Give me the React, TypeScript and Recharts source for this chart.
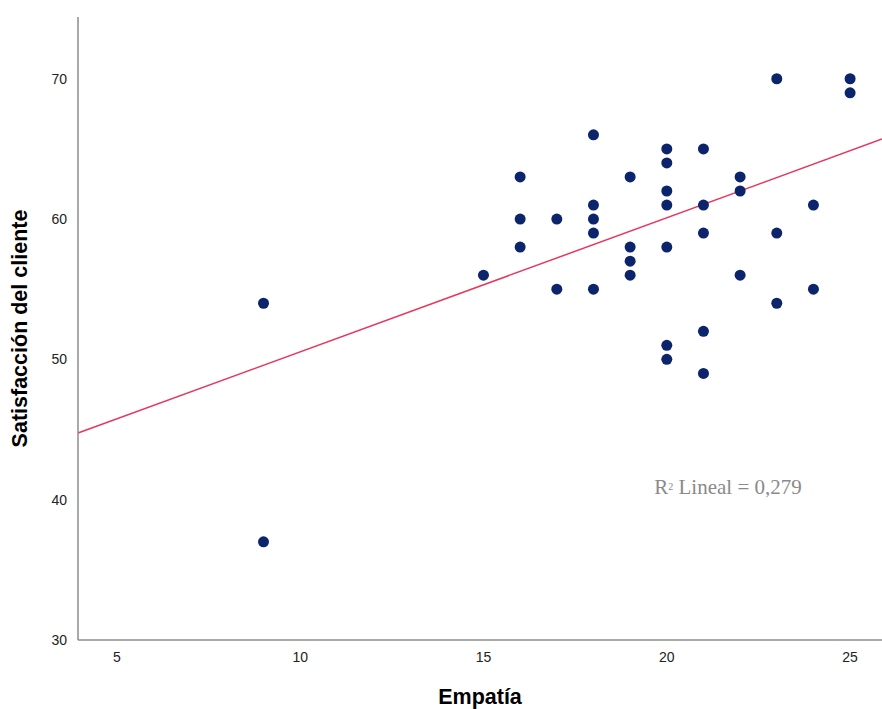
import React from "react";
import { ScatterChart, Scatter, XAxis, YAxis, ReferenceLine, ReferenceDot } from "recharts";

// Empatía (x) vs Satisfacción del cliente (y)
const empatia = [9, 9, 15, 16, 16, 16, 17, 17, 18, 18, 18, 18, 18, 19, 19, 19, 19, 20, 20, 20, 20, 20, 20, 20, 21, 21, 21, 21, 21, 22, 22, 22, 23, 23, 23, 24, 24, 25, 25];
const satisfaccion = [54, 37, 56, 63, 60, 58, 60, 55, 66, 61, 60, 59, 55, 63, 58, 57, 56, 65, 64, 62, 61, 58, 51, 50, 65, 61, 59, 52, 49, 63, 62, 56, 70, 59, 54, 61, 55, 70, 69];

const xTicks = [5, 10, 15, 20, 25];
const yTicks = [30, 40, 50, 60, 70];
const xDomain = [3.94, 25.87];
const yDomain = [30, 74.4];

// linear fit endpoints
const fitLine = [
  { x: 3.94, y: 44.75 },
  { x: 25.87, y: 65.7 },
];
const r2Label = { x: 21.67, y: 40.9, text: "0,279" };

const points = empatia.map((x, i) => ({ x, y: satisfaccion[i] }));

const tickStyle = { fontFamily: "Liberation Sans, Arial, sans-serif", fontSize: 14, fill: "#222" };
const titleStyle = { fontFamily: "Liberation Sans, Arial, sans-serif", fontSize: 21.5, fontWeight: 700, fill: "#000" };

function YTitle(props: any) {
  const vb = props.viewBox;
  const cx = 20;
  const cy = vb.y + vb.height / 2;
  return (
    <text x={cx} y={cy} transform={`rotate(-90 ${cx} ${cy})`} textAnchor="middle" dominantBaseline="central" style={titleStyle}>
      Satisfacción del cliente
    </text>
  );
}

function XTitle(props: any) {
  const vb = props.viewBox;
  return (
    <text x={vb.x + vb.width / 2} y={vb.y + 57} textAnchor="middle" dominantBaseline="central" style={titleStyle}>
      Empatía
    </text>
  );
}

function R2Text(props: any) {
  const vb = props.viewBox;
  const cx = vb.x + (vb.width || 0) / 2;
  const cy = vb.y + (vb.height || 0) / 2;
  return (
    <text x={cx} y={cy} textAnchor="middle" dominantBaseline="central" style={{ fontFamily: "Liberation Serif, Times New Roman, serif", fontSize: 21, fill: "#8a8a8a" }}>
      R<tspan fontSize={10} dy={-1}>2</tspan>
      <tspan dy={1}> Lineal = {r2Label.text}</tspan>
    </text>
  );
}

export default function App() {
  return (
    <div style={{ position: "absolute", left: 0, top: 0, width: 882, height: 709, background: "#fff" }}>
      <ScatterChart width={882} height={709} margin={{ top: 17, right: 0, bottom: 0, left: 0 }}>
        <XAxis
          type="number"
          dataKey="x"
          domain={xDomain}
          ticks={xTicks}
          allowDataOverflow
          height={69}
          tick={tickStyle}
          tickLine={false}
          tickMargin={6}
          axisLine={{ stroke: "#8c8c8c", strokeWidth: 1.5 }}
          label={<XTitle />}
        />
        <YAxis
          type="number"
          dataKey="y"
          domain={yDomain}
          ticks={yTicks}
          allowDataOverflow
          width={78}
          tick={tickStyle}
          tickLine={false}
          tickMargin={5}
          axisLine={{ stroke: "#8c8c8c", strokeWidth: 1.5 }}
          label={<YTitle />}
        />
        <ReferenceLine
          segment={fitLine}
          stroke="#e8365c"
          strokeWidth={1.5}
          ifOverflow="visible"
        />
        <Scatter data={points} fill="#0b246b" isAnimationActive={false} shape={(p: any) => <circle cx={p.cx} cy={p.cy} r={5.5} fill="#0b246b" />} />
        <ReferenceDot x={r2Label.x} y={r2Label.y} r={0} fill="none" stroke="none" label={<R2Text />} />
      </ScatterChart>
    </div>
  );
}
